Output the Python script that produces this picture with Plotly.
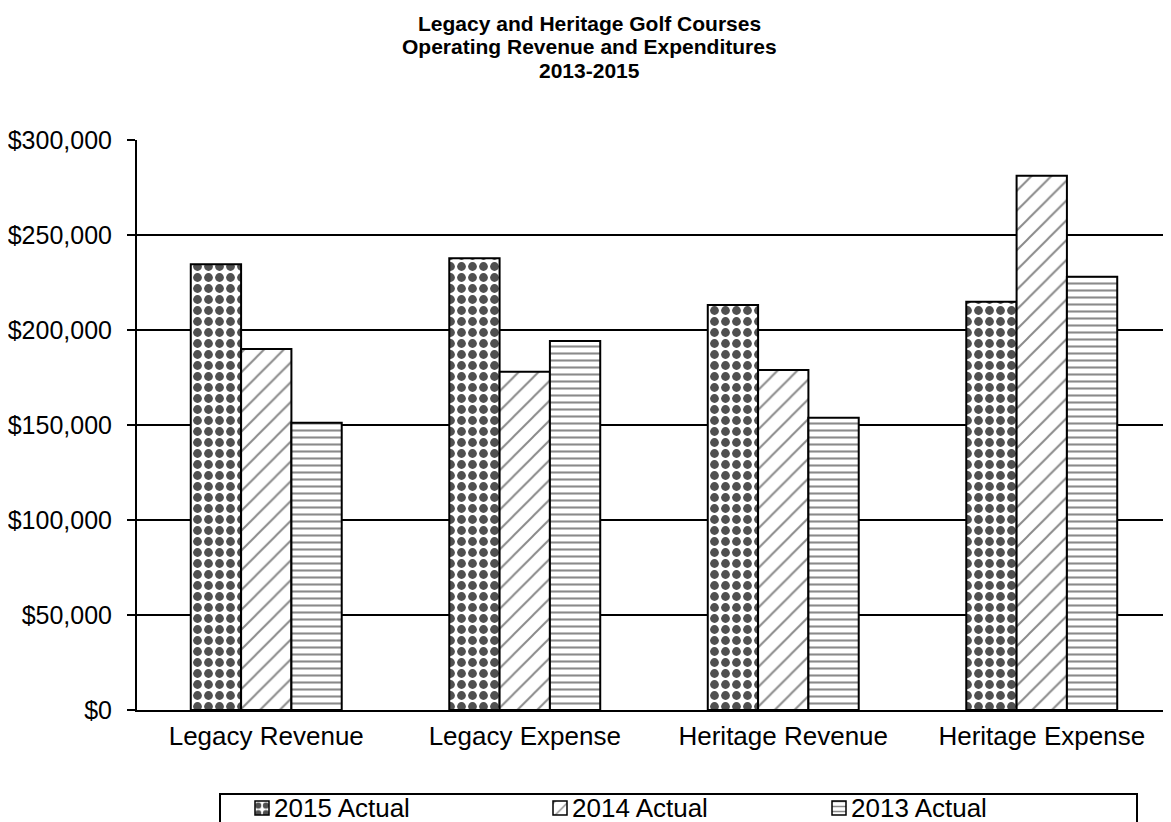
import plotly.graph_objects as go

categories = ["Legacy Revenue", "Legacy Expense", "Heritage Revenue", "Heritage Expense"]
series_names = ["2015 Actual", "2014 Actual", "2013 Actual"]
actual_2015 = [234600, 237700, 213200, 214900]
actual_2014 = [190000, 178000, 179000, 281200]
actual_2013 = [151200, 194200, 153800, 228000]
y_tick_values = [0, 50000, 100000, 150000, 200000, 250000, 300000]
y_tick_labels = ["$0", "$50,000", "$100,000", "$150,000", "$200,000", "$250,000", "$300,000"]
title_lines = ["Legacy and Heritage Golf Courses", "Operating Revenue and Expenditures", "2013-2015"]

FONT = "Liberation Sans, Arial, sans-serif"
W, H = 1171, 822
OFF = 8                       # page offset compensation (px)
TOP = 140 - OFF               # top margin (px)
PH = H - TOP                  # paper height in px


def px_x(px):
    return (px - OFF) / W


def px_y(px):
    return (H - (px - OFF)) / PH


patterns = [
    dict(shape=".", fgcolor="#505050", bgcolor="white", size=11, solidity=0.5, fillmode="replace"),
    dict(shape="/", fgcolor="#8a8a8a", bgcolor="white", size=14, solidity=0.14, fillmode="replace"),
    dict(shape="-", fgcolor="#8a8a8a", bgcolor="white", size=7, solidity=0.3, fillmode="replace"),
]

fig = go.Figure()
for name, vals, pat in zip(series_names, [actual_2015, actual_2014, actual_2013], patterns):
    fig.add_trace(go.Bar(
        x=categories, y=vals, name=name, showlegend=False,
        marker=dict(color="white", pattern=pat, line=dict(color="black", width=2)),
        xaxis="x", yaxis="y",
    ))

# custom legend (symbols drawn as tiny bars on a hidden pixel-scaled subplot)
legend_symbol_left = [255, 553, 832]
SYM = 14
LEG_TOP = 794
for name, pat, sx in zip(series_names, patterns, legend_symbol_left):
    fig.add_trace(go.Bar(
        x=[sx - OFF], y=[SYM], base=[H - (815 - OFF)], width=[SYM], offset=0,
        marker=dict(color="white", pattern=dict(pat, size=max(5, pat["size"] * 0.7)),
                    line=dict(color="black", width=1.5)),
        xaxis="x2", yaxis="y2", showlegend=False, hoverinfo="skip",
    ))

annotations = []
for i, line in enumerate(title_lines):
    annotations.append(dict(
        text="<b>%s</b>" % line, xref="paper", yref="paper",
        x=px_x(585.5 + OFF / 2), y=px_y(23 + 24 * i), xanchor="center", yanchor="middle",
        showarrow=False, font=dict(size=21, family=FONT, color="black"),
    ))
for name, sx in zip(series_names, legend_symbol_left):
    annotations.append(dict(
        text=name, xref="paper", yref="paper",
        x=px_x(sx + SYM + 3), y=px_y(791), xanchor="left", yanchor="top",
        showarrow=False, font=dict(size=26, family=FONT, color="black"),
    ))

shapes = [dict(
    type="rect", xref="paper", yref="paper",
    x0=px_x(220), x1=px_x(1137), y0=px_y(LEG_TOP), y1=px_y(870),
    line=dict(color="black", width=2), fillcolor="rgba(0,0,0,0)", layer="below",
)]

fig.update_layout(
    width=W, height=H,
    barmode="group", bargap=0.416, bargroupgap=0,
    plot_bgcolor="white", paper_bgcolor="white",
    margin=dict(l=0, r=0, t=TOP, b=0, pad=0),
    font=dict(family=FONT, color="black"),
    showlegend=False,
    annotations=annotations,
    shapes=shapes,
    xaxis=dict(
        domain=[px_x(137), px_x(137 + 1034)], anchor="y",
        showline=True, linecolor="black", linewidth=2, ticks="",
        tickfont=dict(size=26, family=FONT, color="black"),
        ticklabelstandoff=2,
        showgrid=False, automargin=False,
    ),
    yaxis=dict(
        domain=[px_y(710), 1], anchor="x",
        range=[0, 300000], tickvals=y_tick_values, ticktext=y_tick_labels,
        showline=True, linecolor="black", linewidth=2,
        ticks="outside", ticklen=8, tickwidth=2, tickcolor="black",
        ticklabelstandoff=10,
        showgrid=True, gridcolor="black", gridwidth=2,
        tickfont=dict(size=25, family=FONT, color="black"),
        zeroline=False, automargin=False,
    ),
    xaxis2=dict(domain=[0, 1], anchor="y2", range=[0, W], visible=False, fixedrange=True),
    yaxis2=dict(domain=[0, px_y(LEG_TOP)], anchor="x2", range=[0, H - (LEG_TOP - OFF)],
                visible=False, fixedrange=True),
)

fig.write_html("out.html")
